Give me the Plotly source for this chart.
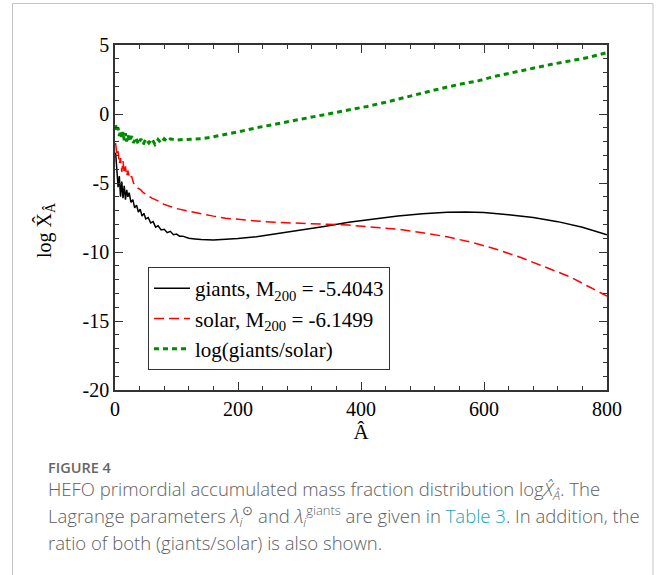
import plotly.graph_objects as go

# ---------------- data ----------------
giants_x = [1, 3, 5, 7, 9, 11, 13, 15, 17, 19, 21, 23, 26, 29, 32, 35, 38, 41, 44, 47,
            50, 54, 58, 62, 66, 70, 75, 80, 85, 90, 95, 100, 105, 110, 120, 130, 140, 160,
            180, 200, 230, 260, 300, 340, 380, 420, 460, 500, 540, 570, 600, 640, 680,
            720, 760, 800]
giants_y = [-2.8, -3.9, -5.3, -4.5, -6.0, -4.9, -6.1, -5.2, -6.2, -5.5, -6.0, -5.7, -6.4,
            -6.2, -6.8, -6.6, -7.1, -6.9, -7.4, -7.2, -7.6, -7.5, -7.9, -7.8, -8.2, -8.1,
            -8.4, -8.35, -8.6, -8.5, -8.75, -8.7, -8.85, -8.85, -9.0, -9.05, -9.1, -9.13,
            -9.1, -9.03, -8.9, -8.7, -8.45, -8.15, -7.85, -7.6, -7.4, -7.22, -7.12, -7.1,
            -7.13, -7.3, -7.5, -7.8, -8.2, -8.75]

solar_x = [1, 3, 5, 7, 9, 11, 13, 15, 17, 19, 21, 24, 27, 30, 34, 38, 42, 46, 50, 60, 70,
           80, 90, 100, 120, 140, 160, 180, 200, 230, 260, 300, 340, 380, 420, 460, 500,
           540, 580, 620, 660, 700, 740, 770, 800]
solar_y = [-2.1, -3.0, -2.7, -3.6, -3.2, -4.2, -3.4, -4.3, -3.8, -4.5, -4.1, -4.7, -4.5,
           -5.0, -5.2, -5.4, -5.5, -5.7, -5.8, -6.1, -6.3, -6.55, -6.7, -6.85, -7.05,
           -7.25, -7.4, -7.55, -7.65, -7.75, -7.85, -7.92, -8.0, -8.05, -8.2, -8.35, -8.6,
           -8.9, -9.3, -9.8, -10.4, -11.1, -11.8, -12.5, -13.2]

ratio_x = [1, 3, 5, 7, 9, 11, 13, 15, 17, 19, 21, 24, 27, 30, 34, 38, 42, 46, 50, 55, 60,
           65, 70, 75, 80, 85, 90, 100, 110, 120, 140, 160, 180, 200, 230, 260, 290, 320,
           350, 380, 410, 440, 470, 500, 530, 560, 590, 620, 650, 680, 710, 740, 770, 800]
ratio_y = [-0.8, -1.3, -1.0, -1.6, -1.2, -1.8, -1.3, -1.9, -1.4, -2.0, -1.5, -2.0, -1.6,
           -2.1, -1.7, -2.2, -1.8, -2.2, -1.8, -2.1, -1.8, -2.2, -1.85, -2.1, -1.8, -2.0,
           -1.8, -1.9, -1.85, -1.85, -1.8, -1.65, -1.5, -1.3, -1.0, -0.75, -0.45, -0.2,
           0.05, 0.25, 0.55, 0.85, 1.2, 1.55, 1.85, 2.15, 2.4, 2.75, 3.05, 3.35, 3.6,
           3.85, 4.1, 4.45]

series_names = ["giants, M<sub>200</sub> = -5.4043",
                "solar, M<sub>200</sub> = -6.1499",
                "log(giants/solar)"]

x_tickvals = [0, 200, 400, 600, 800]
x_ticktext = ["0", "200", "400", "600", "800"]
y_tickvals = [-20, -15, -10, -5, 0, 5]
y_ticktext = ["-20", "-15", "-10", "-5", "0", "5"]

# ---------------- figure ----------------
SERIF = "Liberation Serif"
W, H = 656, 575
L, R, T, B = 115, 49, 45, 185
pw, ph = W - L - R, H - T - B

def px_x(p):
    return (p - L) / pw

def px_y(p):
    return (H - B - p) / ph

fig = go.Figure()
fig.add_trace(go.Scatter(x=giants_x, y=giants_y, mode="lines", name=series_names[0],
                         line=dict(color="black", width=1.5)))
fig.add_trace(go.Scatter(x=solar_x, y=solar_y, mode="lines", name=series_names[1],
                         line=dict(color="#ff0000", width=1.5, dash="10px,5px")))
fig.add_trace(go.Scatter(x=ratio_x, y=ratio_y, mode="lines", name=series_names[2],
                         line=dict(color="#008c00", width=3, dash="5px,4px")))

axis_common = dict(
    showline=True, linecolor="#333333", linewidth=1.5, mirror="ticks",
    ticks="inside", ticklen=8, tickwidth=1.2, tickcolor="#333333",
    showgrid=False, zeroline=False,
    tickfont=dict(family=SERIF, size=20, color="black"),
)

fig.update_xaxes(range=[0, 800], tickvals=x_tickvals, ticktext=x_ticktext,
                 minor=dict(ticks="inside", ticklen=4, dtick=40, tickcolor="#333333",
                            showgrid=False),
                 title=dict(text="Â", font=dict(family=SERIF, size=21, color="black"),
                            standoff=4),
                 **axis_common)
fig.update_yaxes(range=[-20, 5], tickvals=y_tickvals, ticktext=y_ticktext,
                 minor=dict(ticks="inside", ticklen=4, dtick=1, tickcolor="#333333",
                            showgrid=False),
                 **axis_common)

CAP = dict(family="Open Sans", size=18.5, color="#606060", weight=300)
annotations = [
    dict(text="log X\u0302<sub>Â</sub>", xref="paper", yref="paper",
         x=px_x(45), y=px_y(230), textangle=-90, showarrow=False,
         font=dict(family=SERIF, size=20, color="black"), xanchor="center",
         yanchor="middle"),
    dict(text="FIGURE 4", xref="paper", yref="paper", x=px_x(46), y=px_y(467),
         xanchor="left", yanchor="middle", showarrow=False,
         font=dict(family="Open Sans", size=14.5, color="#666666", weight=600)),
    dict(text="HEFO primordial accumulated mass fraction distribution log<i>X\u0302</i><sub><i>Â</i></sub>. The",
         xref="paper", yref="paper", x=px_x(46), y=px_y(490), xanchor="left",
         yanchor="middle", showarrow=False, font=CAP),
    dict(text="Lagrange parameters <i>λ</i><sub><i>i</i></sub><sup>⊙</sup> and <i>λ</i><sub><i>i</i></sub><sup>giants</sup> are given in <span style='color:#1aa3bd'>Table 3</span>. In addition, the",
         xref="paper", yref="paper", x=px_x(46), y=px_y(516), xanchor="left",
         yanchor="middle", showarrow=False, font=CAP),
    dict(text="ratio of both (giants/solar) is also shown.",
         xref="paper", yref="paper", x=px_x(46), y=px_y(542), xanchor="left",
         yanchor="middle", showarrow=False, font=CAP),
]

shapes = [
    dict(type="rect", xref="paper", yref="paper", x0=px_x(12.5), x1=px_x(653),
         y0=px_y(600), y1=px_y(3.5), line=dict(color="#c4c4c4", width=1),
         fillcolor="rgba(0,0,0,0)", layer="below"),
]

fig.update_layout(
    width=W, height=H,
    margin=dict(l=L, r=R, t=T, b=B, autoexpand=False),
    paper_bgcolor="white", plot_bgcolor="white",
    showlegend=True,
    legend=dict(x=px_x(148), y=px_y(267), xanchor="left", yanchor="top",
                bgcolor="white", bordercolor="#333333", borderwidth=1,
                font=dict(family=SERIF, size=21, color="black"),
                tracegroupgap=0, itemwidth=36),
    annotations=annotations,
    shapes=shapes,
)

fig.write_html("out.html")
